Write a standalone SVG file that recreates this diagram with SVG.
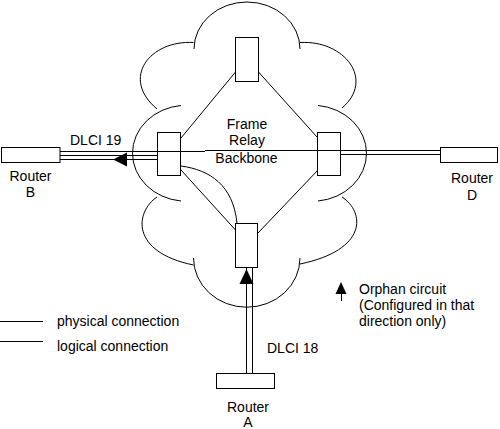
<svg xmlns="http://www.w3.org/2000/svg" width="500" height="429" viewBox="0 0 500 429">
<style>
  .ln{stroke:#000;stroke-width:1;fill:none}
  .bx{stroke:#000;stroke-width:1;fill:none}
  .ah{fill:#000;stroke:none}
  text{font-family:"Liberation Sans",Arial,sans-serif;font-size:14px;fill:#000}
  .c{text-anchor:middle}
</style>
<rect width="500" height="429" fill="#fff"/>
<g id="cloud" class="ln">
  <path d="M194,49 A53,47 0 0 1 300,49"/>
  <path d="M300,42.5 C345,40 375,80 342,108"/>
  <path d="M318,105.5 A54,48 0 0 1 318,201"/>
  <path d="M342,197 C365,212 368,250 300,264"/>
  <path d="M300,258 A53,49 0 0 1 193.5,258"/>
  <path d="M193.5,265 C130,252 135,212 157,197"/>
  <path d="M181,105.5 A54,48 0 0 0 181,201"/>
  <path d="M157,109 C120,78 150,40 193.5,42.5"/>
</g>
<g id="connectors" class="ln">
  <line x1="235.5" y1="72" x2="181" y2="138"/>
  <line x1="258.5" y1="72" x2="317" y2="137"/>
  <line x1="181" y1="170" x2="235.5" y2="230"/>
  <path d="M181,166 C210,170 233,185 237,223"/>
  <line x1="318" y1="170" x2="258" y2="233"/>
  <line x1="60" y1="151.5" x2="205" y2="151.5"/>
  <line x1="205" y1="150.5" x2="440" y2="150.5"/>
  <line x1="60" y1="155.5" x2="157.5" y2="155.5"/>
  <line x1="60" y1="159.5" x2="157.5" y2="159.5"/>
  <polygon class="ah" points="113,159.5 127,152.5 127,166.5"/>
  <line x1="341" y1="154.5" x2="440" y2="154.5"/>
  <line x1="246.5" y1="267" x2="246.5" y2="374"/>
  <line x1="252.5" y1="267" x2="252.5" y2="374"/>
  <polygon class="ah" points="246.5,269 239.5,284 253.5,284"/>
</g>
<g id="switch-top"><rect class="bx" x="235.5" y="37.5" width="23" height="44"/></g>
<g id="switch-left"><rect class="bx" x="157.5" y="132.5" width="23" height="43"/></g>
<g id="switch-right"><rect class="bx" x="317.5" y="132.5" width="23" height="43"/></g>
<g id="switch-bottom"><rect class="bx" x="235.5" y="223.5" width="22" height="44"/></g>
<g id="backbone-label">
  <text class="c" x="247" y="128.5">Frame</text>
  <text class="c" x="247" y="145">Relay</text>
  <text class="c" x="246.5" y="163">Backbone</text>
</g>
<g id="router-b">
  <rect class="bx" x="1.5" y="147.5" width="58.5" height="15"/>
  <text class="c" x="30.5" y="180.5">Router</text>
  <text class="c" x="30.5" y="197">B</text>
</g>
<g id="router-d">
  <rect class="bx" x="440.5" y="147.5" width="57" height="15"/>
  <text class="c" x="472" y="183">Router</text>
  <text class="c" x="472" y="199.5">D</text>
</g>
<g id="router-a">
  <rect class="bx" x="216.5" y="373.5" width="58" height="15"/>
  <text class="c" x="248" y="411.5">Router</text>
  <text class="c" x="248" y="426.5">A</text>
</g>
<g id="labels">
  <text x="70" y="144.5">DLCI 19</text>
  <text x="267" y="353">DLCI 18</text>
</g>
<g id="legend">
  <line class="ln" x1="0" y1="321.5" x2="43" y2="321.5"/>
  <text x="57" y="326">physical connection</text>
  <line class="ln" x1="0" y1="341.5" x2="43" y2="341.5"/>
  <text x="57" y="350.5">logical connection</text>
  <polygon class="ah" points="341,282 335.5,294 346.5,294"/>
  <line class="ln" x1="341.5" y1="293" x2="341.5" y2="301"/>
  <text x="359" y="294">Orphan circuit</text>
  <text x="359" y="310">(Configured in that</text>
  <text x="359" y="326">direction only)</text>
</g>
</svg>
